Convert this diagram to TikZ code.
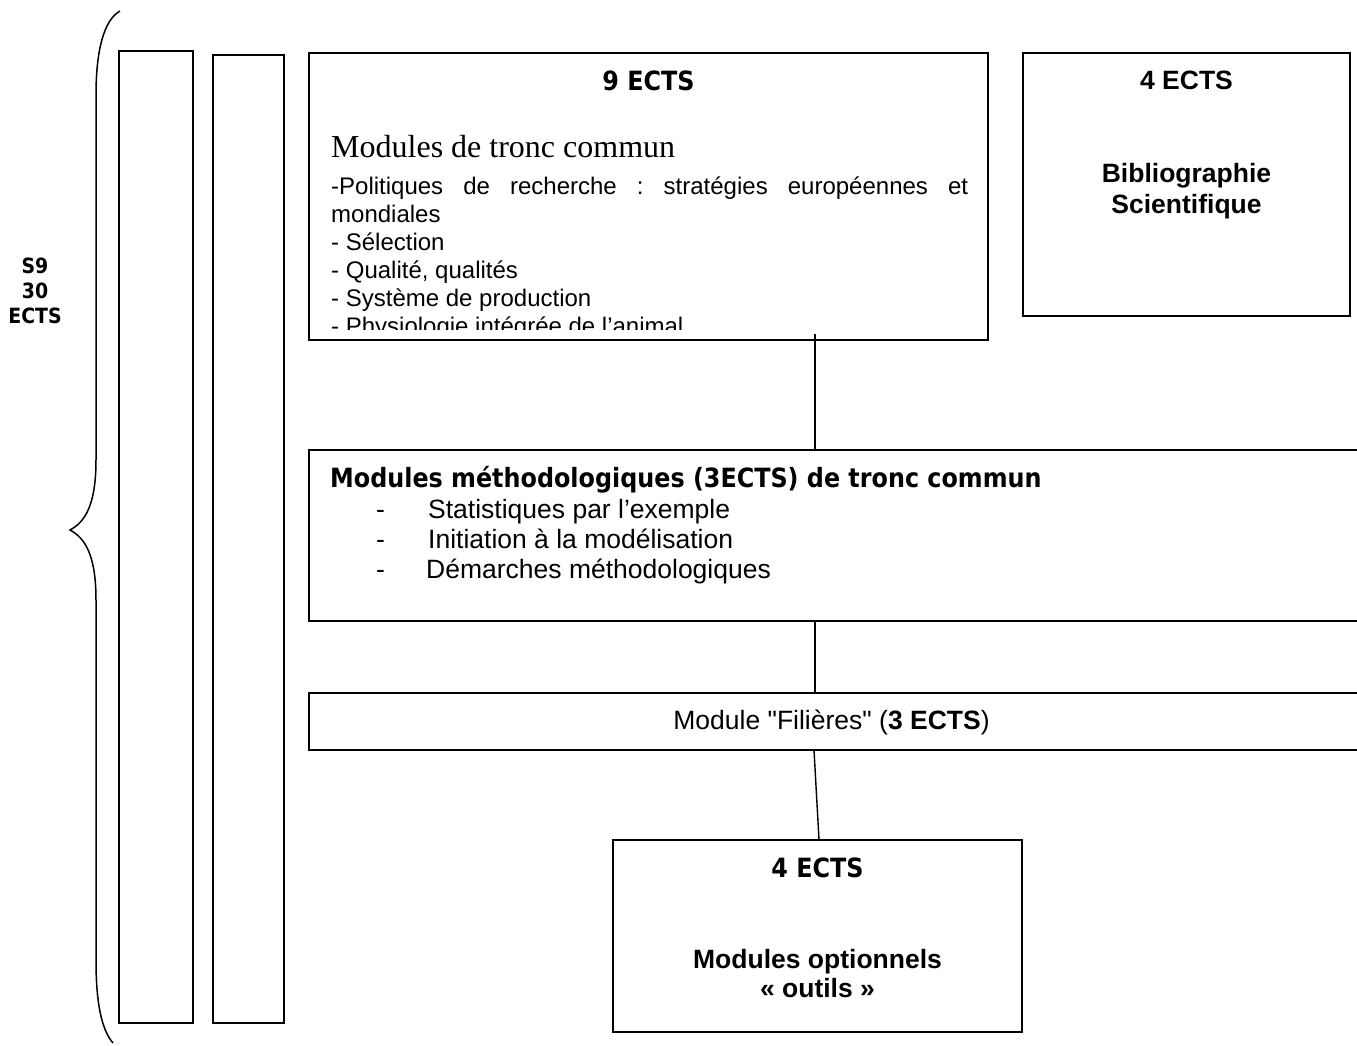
\documentclass[tikz,border=0pt]{standalone}
\usepackage{fontspec}
\setmainfont{Liberation Sans}[Ligatures=TeXOff]
\newfontfamily\tah[FakeStretch=0.9]{DejaVu Sans}
\newfontfamily\tnr{Liberation Serif}
\frenchspacing
\tikzset{
  box/.style={draw, line width=1.6pt, rectangle, inner sep=0pt},
  conn/.style={line width=1.4pt},
  txt/.style={inner sep=0pt, anchor=base west},
  ctxt/.style={inner sep=0pt, anchor=base},
  body/.style={font=\fontsize{24}{27}\selectfont},
  bodyl/.style={font=\fontsize{26.5}{30}\selectfont},
  tahb/.style={font=\tah\bfseries\fontsize{26.5}{30}\selectfont},
  arb/.style={font=\bfseries\fontsize{26.5}{30}\selectfont},
}
\begin{document}
\begin{tikzpicture}[x=1pt,y=-1pt]
\useasboundingbox (0,0) rectangle (1357,1045);
\fill[white] (0,0) rectangle (1357,1045);
\clip (0,0) rectangle (1357,1045);

% brace
\draw[line width=1.5pt] (120,11) .. controls (104,20) and (96,50) .. (96,95) -- (96,460)
  .. controls (96,505) and (85,522) .. (70,530)
  .. controls (85,538) and (96,555) .. (96,600) -- (96,960)
  .. controls (96,1005) and (102,1030) .. (113,1043);

% S9 label
\node[ctxt, font=\tah\bfseries\fontsize{21}{25}\selectfont] (s9a) at (35,273) {S9};
\node[ctxt, font=\tah\bfseries\fontsize{21}{25}\selectfont] (s9b) at (35,298) {30};
\node[ctxt, font=\tah\bfseries\fontsize{21}{25}\selectfont] (s9c) at (35,323) {ECTS};

% vertical bars
\node[box, minimum width=74pt, minimum height=972pt] (r1) at (156,537) {};
\node[box, minimum width=71pt, minimum height=968pt] (r2) at (248.5,539) {};

% box 1
\node[box, minimum width=679pt, minimum height=287pt] (b1) at (648.5,196.5) {};
\node[ctxt, tahb] (b1t) at (648.5,90) {9 ECTS};
\node[txt, font=\tnr\fontsize{32}{36}\selectfont] (b1s) at (331,157) {Modules de tronc commun};
\begin{scope}
\clip (309,53) rectangle (988,329);
\node[txt, body] (l1) at (331,194) {\makebox[637pt][s]{-Politiques de recherche : stratégies européennes et}};
\node[txt, body] (l2) at (331,222) {mondiales};
\node[txt, body] (l3) at (331,250) {- Sélection};
\node[txt, body] (l4) at (331,278) {- Qualité, qualités};
\node[txt, body] (l5) at (331,306) {- Système de production};
\node[txt, body] (l6) at (331,334) {- Physiologie intégrée de l’animal};
\end{scope}

% bibliographie
\node[box, minimum width=327pt, minimum height=263pt] (bib) at (1186.5,184.5) {};
\node[ctxt, arb] (bibt) at (1186.5,89) {4 ECTS};
\node[ctxt, arb] (bib1) at (1186.5,182) {Bibliographie};
\node[ctxt, arb] (bib2) at (1186.5,213) {Scientifique};

% methodes
\node[box, minimum width=1071pt, minimum height=171pt] (meth) at (844.5,535.5) {};
\node[txt, tahb] (mh) at (330,487) {Modules méthodologiques (3ECTS) de tronc commun};
\node[txt, bodyl] (m1d) at (376,518) {-};
\node[txt, bodyl] (m1) at (428,518) {Statistiques par l’exemple};
\node[txt, bodyl] (m2d) at (376,548) {-};
\node[txt, bodyl] (m2) at (428,548) {Initiation à la modélisation};
\node[txt, bodyl] (m3d) at (376,578) {-};
\node[txt, bodyl] (m3) at (426,578) {Démarches méthodologiques};

% filieres
\node[box, minimum width=1071pt, minimum height=57pt] (fil) at (844.5,721.5) {};
\node[ctxt, bodyl] (filt) at (831.5,729) {Module "Filières" (\textbf{3 ECTS})};

% optionnels
\node[box, minimum width=409pt, minimum height=192pt] (opt) at (817.5,936) {};
\node[ctxt, tahb] (optt) at (817.5,877) {4 ECTS};
\node[ctxt, arb] (opt1) at (817.5,968) {Modules optionnels};
\node[ctxt, arb] (opt2) at (817.5,997) {« outils »};

% connectors
\coordinate (k1) at (815,334);
\draw[conn] (k1) -- (k1 |- meth.north);
\draw[conn] (meth.south -| k1) -- (fil.north -| k1);
\coordinate (k3) at (814,750);
\coordinate (k4) at (819,840);
\draw[conn] (k3) -- (k4);
\end{tikzpicture}
\end{document}
